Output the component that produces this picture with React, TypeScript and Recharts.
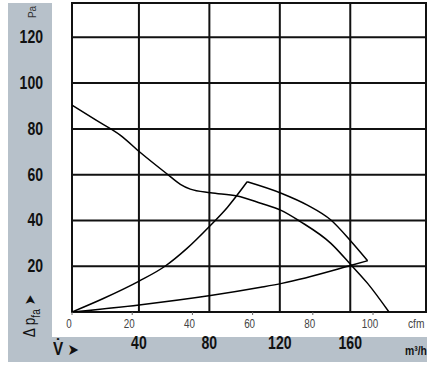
import { CartesianGrid, Line, LineChart, ReferenceArea, ReferenceLine, XAxis, YAxis } from "recharts";

// fan characteristic, cfm vs Pa
const fanCurve = [
  { x: 0, y: 90.4 },
  { x: 8, y: 83.8 },
  { x: 16, y: 77.3 },
  { x: 22.7, y: 69.7 },
  { x: 31.6, y: 60.3 },
  { x: 36, y: 55.8 },
  { x: 39.3, y: 53.7 },
  { x: 46, y: 52.1 },
  { x: 54.9, y: 50.7 },
  { x: 62.7, y: 47.5 },
  { x: 69.3, y: 44.5 },
  { x: 76, y: 39.4 },
  { x: 86, y: 30 },
  { x: 92.8, y: 20.4 },
  { x: 98.2, y: 12.5 },
  { x: 105.3, y: 0 },
];

// operating range: lower system line, upper system line, and the closing arc
const lowerSystem = [
  { x: 0, y: 0 },
  { x: 22.3, y: 3.1 },
  { x: 46, y: 7.2 },
  { x: 62.7, y: 10.8 },
  { x: 69.7, y: 12.5 },
  { x: 92.8, y: 20.4 },
  { x: 98.2, y: 22.4 },
];

const upperSystem = [
  { x: 0, y: 0 },
  { x: 10.4, y: 5.9 },
  { x: 22.3, y: 13.5 },
  { x: 31, y: 20.1 },
  { x: 38.2, y: 27.8 },
  { x: 45.8, y: 37.6 },
  { x: 51.6, y: 45.7 },
  { x: 58.2, y: 56.9 },
];

const rangeArc = [
  { x: 58.2, y: 56.9 },
  { x: 69.7, y: 51.8 },
  { x: 78.2, y: 46.7 },
  { x: 86, y: 40.2 },
  { x: 92.8, y: 30.7 },
  { x: 98.2, y: 22.4 },
];

const paTicks = [0, 20, 40, 60, 80, 100, 120];
const cfmTicks = [0, 20, 40, 60, 80, 100];
const m3hTicks = [40, 80, 120, 160];
const m3hRows = m3hTicks.map((v) => ({ m3h: v }));

const FONT = "'Liberation Sans', Arial, sans-serif";
const GREY = "#b7c1ca";

function PaTick(props: any) {
  const { x, y, payload } = props;
  if (payload.value === 0) return <g />;
  return (
    <g transform={`translate(${x},${y}) scale(0.78,1)`}>
      <text x={0} y={0} textAnchor="end" dy={6} fontFamily={FONT} fontWeight="bold" fontSize={18} fill="#111">
        {payload.value}
      </text>
    </g>
  );
}

function CfmTick(props: any) {
  const { x, y, payload } = props;
  return (
    <g transform={`translate(${x - 3},${y}) scale(0.82,1)`}>
      <text x={0} y={0} textAnchor="middle" dy={9} fontFamily={FONT} fontSize={12} fill="#444">
        {payload.value}
      </text>
    </g>
  );
}

function M3hTick(props: any) {
  const { x, y, payload } = props;
  return (
    <g transform={`translate(${x},${y}) scale(0.78,1)`}>
      <text x={0} y={0} textAnchor="middle" dy={13} fontFamily={FONT} fontWeight="bold" fontSize={18} fill="#111">
        {payload.value}
      </text>
    </g>
  );
}

const curveProps = {
  xAxisId: "cfm",
  dataKey: "y",
  type: "monotone" as const,
  stroke: "#000",
  strokeWidth: 1.5,
  dot: false,
  isAnimationActive: false,
};

export default function App() {
  return (
    <div style={{ position: "absolute", left: 0, top: 0, width: 435, height: 370, fontFamily: FONT }}>
      <div style={{ position: "absolute", left: 8, top: 3, width: 44, height: 359, background: GREY }} />
      <div style={{ position: "absolute", left: 8, top: 337, width: 419, height: 25, background: GREY }} />

      <div style={{ position: "absolute", left: 0, top: 0 }}>
        <LineChart width={435} height={370} data={m3hRows} margin={{ top: 3, right: 9, left: 0, bottom: 8 }}>
          <XAxis
            xAxisId="cfm"
            type="number"
            dataKey="x"
            domain={[0, 117.6]}
            ticks={cfmTicks}
            height={24}
            axisLine={false}
            tickSize={3}
            tickMargin={4}
            tickLine={{ stroke: "#666" }}
            tick={CfmTick}
            allowDataOverflow
          />
          <XAxis
            xAxisId="m3h"
            type="number"
            dataKey="m3h"
            domain={[2, 203]}
            ticks={m3hTicks}
            height={26}
            axisLine={false}
            tickLine={false}
            tickSize={0}
            tickMargin={0}
            tick={M3hTick}
            allowDataOverflow
          />
          <YAxis
            type="number"
            domain={[0, 135]}
            ticks={paTicks}
            width={72}
            axisLine={false}
            tickLine={false}
            tickSize={0}
            tickMargin={29}
            tick={PaTick}
            allowDataOverflow
          />
          <CartesianGrid xAxisId="cfm" vertical={false} stroke="#111" strokeWidth={2} />
          {m3hTicks.map((v) => (
            <ReferenceLine key={v} xAxisId="m3h" x={v} stroke="#111" strokeWidth={2} />
          ))}
          <ReferenceArea xAxisId="cfm" x1={0} x2={117.6} y1={0} y2={135} fill="none" stroke="#111" strokeWidth={2} />
          <Line {...curveProps} data={fanCurve} />
          <Line {...curveProps} data={lowerSystem} />
          <Line {...curveProps} data={upperSystem} />
          <Line {...curveProps} data={rangeArc} />
        </LineChart>
      </div>

      <div
        style={{
          position: "absolute",
          left: 33,
          top: 12,
          fontSize: 10,
          color: "#333",
          transform: "translate(-50%, -50%) rotate(-90deg)",
          lineHeight: 1,
        }}
      >
        Pa
      </div>
      <div
        style={{
          position: "absolute",
          left: 32,
          top: 316,
          fontSize: 16,
          color: "#111",
          whiteSpace: "nowrap",
          transform: "translate(-50%, -50%) rotate(-90deg) scale(0.85,1)",
          lineHeight: 1,
        }}
      >
        Δ p<sub style={{ fontSize: 12 }}>fa</sub> <span style={{ fontFamily: "'DejaVu Sans', sans-serif", fontSize: 15 }}>➤</span>
      </div>
      <div
        style={{
          position: "absolute",
          left: 53,
          top: 340,
          fontSize: 18,
          fontWeight: "bold",
          color: "#111",
          whiteSpace: "nowrap",
          lineHeight: 1.1,
          transform: "scale(0.85,1)",
          transformOrigin: "left center",
        }}
      >
        V̇ <span style={{ fontFamily: "'DejaVu Sans', sans-serif", fontSize: 16 }}>➤</span>
      </div>
      <div
        style={{ position: "absolute", left: 408, top: 318, fontSize: 12, color: "#444", lineHeight: 1, transform: "scale(0.85,1)", transformOrigin: "left center" }}
      >
        cfm
      </div>
      <div
        style={{
          position: "absolute",
          left: 405,
          top: 344,
          fontSize: 13,
          fontWeight: "bold",
          color: "#111",
          lineHeight: 1,
          transform: "scale(0.8,1)",
          transformOrigin: "left center",
        }}
      >
        m³/h
      </div>
    </div>
  );
}
